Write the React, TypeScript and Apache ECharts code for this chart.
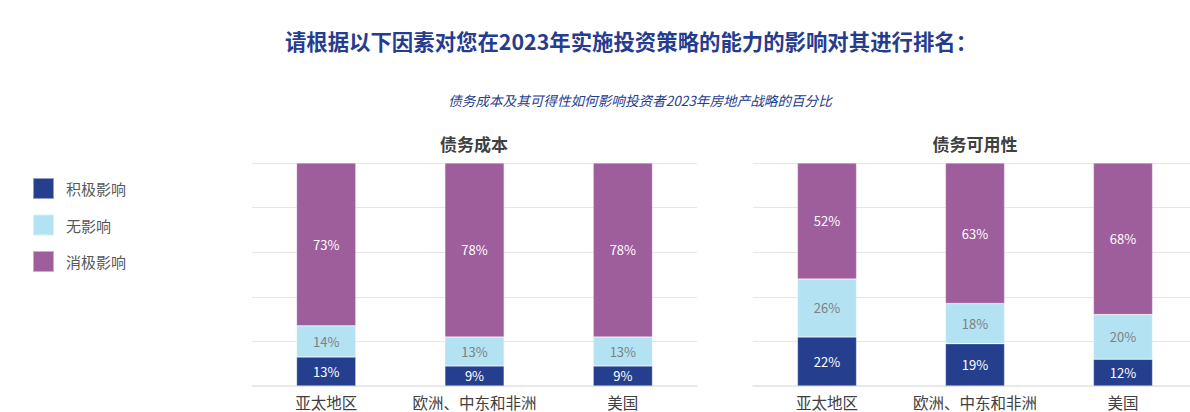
import React, { useEffect, useRef } from "react";
import * as echarts from "echarts";

const categories = ["亚太地区", "欧洲、中东和非洲", "美国"];
const seriesNames = ["积极影响", "无影响", "消极影响"];
const costPositive = [13, 9, 9];
const costNeutral = [14, 13, 13];
const costNegative = [73, 78, 78];
const availPositive = [22, 19, 12];
const availNeutral = [26, 18, 20];
const availNegative = [52, 63, 68];
const panelTitles = ["债务成本", "债务可用性"];
const mainTitle = "请根据以下因素对您在2023年实施投资策略的能力的影响对其进行排名：";
const subTitle = "债务成本及其可得性如何影响投资者2023年房地产战略的百分比";

const colors = ["#253F8E", "#B3E2F3", "#9E5D9B"];
const labelColors = ["#ffffff", "#7f7f7f", "#ffffff"];
const FONT = "'Noto Sans CJK SC', 'Noto Sans', sans-serif";

export default function App() {
  const ref = useRef<HTMLDivElement>(null);
  useEffect(() => {
    if (!ref.current) return;
    const chart = echarts.init(ref.current, null, { renderer: "svg" });
    const panels = [
      [costPositive, costNeutral, costNegative],
      [availPositive, availNeutral, availNegative],
    ];
    const series: any[] = [];
    panels.forEach((vals, p) => {
      vals.forEach((data, i) => {
        series.push({
          type: "bar",
          name: seriesNames[i],
          stack: "s" + p,
          xAxisIndex: p,
          yAxisIndex: p,
          barWidth: "40%",
          data,
          itemStyle: { color: colors[i], borderColor: "rgba(255,255,255,0.5)", borderWidth: 0.6 },
          label: {
            show: true,
            position: "inside",
            formatter: "{c}%",
            color: labelColors[i],
            fontSize: 13,
            fontFamily: FONT,
          },
        });
      });
    });
    const xAxis = [0, 1].map((p) => ({
      type: "category",
      gridIndex: p,
      data: categories,
      axisLine: { show: true, lineStyle: { color: "#e6e6e6", width: 1.5 } },
      axisTick: { show: false },
      axisLabel: { color: "#404040", fontSize: 15.5, margin: 8, fontFamily: FONT, interval: 0 },
    }));
    const yAxis = [0, 1].map((p) => ({
      type: "value",
      gridIndex: p,
      min: 0,
      max: 100,
      interval: 20,
      axisLabel: { show: false },
      axisLine: { show: false },
      axisTick: { show: false },
      splitLine: { show: true, lineStyle: { color: "#e6e6e6", width: 1.2 } },
    }));
    chart.setOption({
      animation: false,
      textStyle: { fontFamily: FONT },
      grid: [
        { left: 252, width: 445, top: 163, height: 223, outerBoundsMode: "none" },
        { left: 753, width: 444, top: 163, height: 223, outerBoundsMode: "none" },
      ],
      xAxis,
      yAxis,
      legend: {
        orient: "vertical",
        left: 27,
        top: 172,
        itemWidth: 21,
        itemHeight: 21,
        itemGap: 13.5,
        icon: "rect",
        data: seriesNames,
        textStyle: { color: "#595959", fontSize: 15, fontFamily: FONT, padding: [0, 0, 0, 7] },
      },
      graphic: [
        {
          type: "text",
          x: 631,
          y: 40,
          style: {
            text: mainTitle,
            fill: "#263C8E",
            fontSize: 21.4,
            fontWeight: "bold",
            fontFamily: FONT,
            align: "center",
            verticalAlign: "middle",
          },
        },
        {
          type: "text",
          x: 640,
          y: 100,
          style: {
            text: subTitle,
            fill: "#263C8E",
            fontSize: 13.6,
            fontStyle: "italic",
            fontFamily: FONT,
            align: "center",
            verticalAlign: "middle",
          },
        },
        {
          type: "text",
          x: 474,
          y: 143,
          style: {
            text: panelTitles[0],
            fill: "#404040",
            fontSize: 17,
            fontWeight: "bold",
            fontFamily: FONT,
            align: "center",
            verticalAlign: "middle",
          },
        },
        {
          type: "text",
          x: 975,
          y: 143,
          style: {
            text: panelTitles[1],
            fill: "#404040",
            fontSize: 17,
            fontWeight: "bold",
            fontFamily: FONT,
            align: "center",
            verticalAlign: "middle",
          },
        },
      ],
      series,
    });
    return () => chart.dispose();
  }, []);
  return (
    <div
      ref={ref}
      style={{ position: "fixed", left: 0, top: 0, width: 1190, height: 412, background: "#ffffff" }}
    />
  );
}
